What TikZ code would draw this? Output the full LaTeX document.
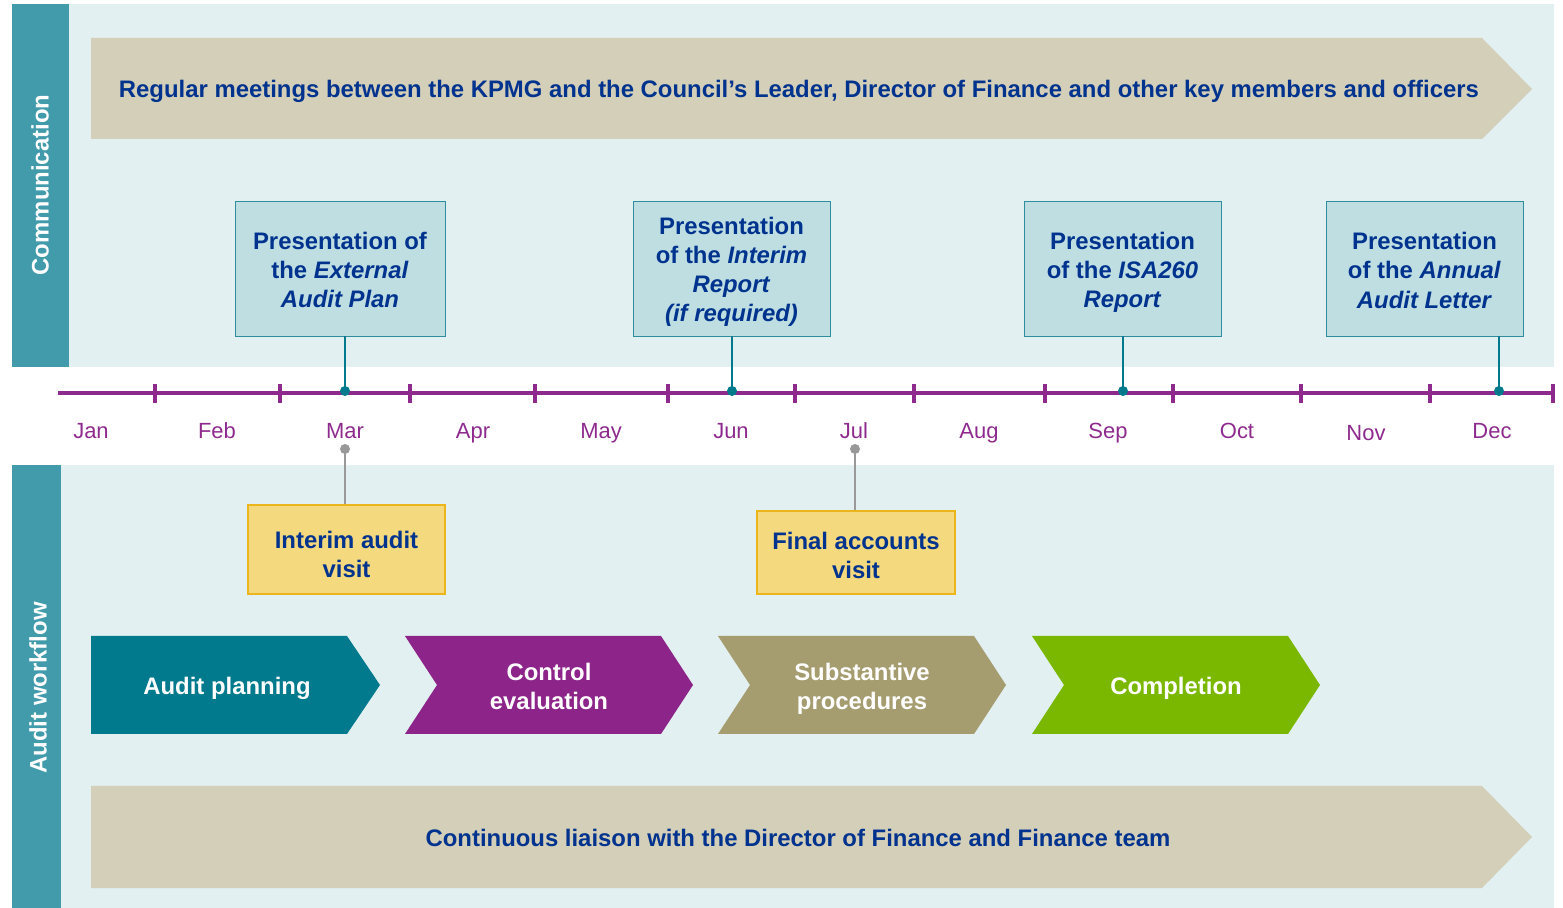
\documentclass[tikz,border=0pt]{standalone}
\usepackage{fontspec}
\setmainfont{Liberation Sans}
\definecolor{kblue}{HTML}{00338D}
\definecolor{panelbg}{HTML}{E2F0F1}
\definecolor{sidebar}{HTML}{419BAB}
\definecolor{banner}{HTML}{D4CFB8}
\definecolor{boxfill}{HTML}{BEDEE2}
\definecolor{boxline}{HTML}{2E8E9E}
\definecolor{tealdot}{HTML}{007A8C}
\definecolor{axiscol}{HTML}{8E2A8E}
\definecolor{yfill}{HTML}{F4D97E}
\definecolor{yline}{HTML}{EDB51C}
\definecolor{greyline}{HTML}{999999}
\definecolor{cplan}{HTML}{007A8C}
\definecolor{cctrl}{HTML}{8C2489}
\definecolor{csubst}{HTML}{A59D6F}
\definecolor{ccompl}{HTML}{7AB800}
% strut that pushes a box's text down
\newcommand{\padtop}[1]{\rule{0pt}{#1}}
\tikzset{
  bigtext/.style={font=\fontsize{13.6}{16.6}\selectfont\bfseries},
  presbox/.style={bigtext, draw=boxline, fill=boxfill, text=kblue, align=center,
    inner sep=0pt, minimum height=2.7cm},
  visitbox/.style={bigtext, draw=yline, fill=yfill, text=kblue, align=center,
    inner sep=0pt, thick},
  steptext/.style={bigtext, text=white, align=center},
  sidetext/.style={bigtext, text=white, rotate=90},
  month/.style={font=\fontsize{12.5}{15}\selectfont, text=axiscol,
    text height=9pt, text depth=2.5pt},
  axisline/.style={axiscol, line width=2pt},
  tealconn/.style={tealdot, line width=1.2pt},
  greyconn/.style={greyline, line width=1.2pt},
}
\begin{document}
\begin{tikzpicture}[x=0.02cm, y=-0.02cm]
  \useasboundingbox (0,0) rectangle (1563,908);

  % Panels
  \fill[panelbg] (12,4) rectangle (1554,367);
  \fill[panelbg] (12,465) rectangle (1554,908);
  \fill[sidebar] (12,4) rectangle (69,367);
  \fill[sidebar] (12,465) rectangle (61,908);
  \node[sidetext] (comm) at (40,185) {Communication};
  \node[sidetext] (flow) at (38,688) {Audit workflow};

  % Banners
  \fill[banner] (91,38) -- (1482,38) -- (1532,89) -- (1482,139) -- (91,139) -- cycle;
  \node[bigtext, text=kblue] (meet) at (799,91)
    {Regular meetings between the KPMG and the Council’s Leader, Director of Finance and other key members and officers};
  \fill[banner] (91,786) -- (1482,786) -- (1532,837) -- (1482,888) -- (91,888) -- cycle;
  \node[bigtext, text=kblue] (liaison) at (798,838)
    {Continuous liaison with the Director of Finance and Finance team};

  % Timeline
  \draw[axisline] (58,393) -- (1553,393);
  \foreach \x in {155,280,410,535,668,795,914,1045,1173,1301,1430,1553} {
    \draw[axisline] (\x,384) -- (\x,403);
  }
  \foreach \m/\x/\y in {Jan/91/433, Feb/217/433, Mar/345/433, Apr/473/433,
      May/601/433, Jun/731/433, Jul/854/433, Aug/979/433, Sep/1108/433,
      Oct/1237/433, Nov/1366/435, Dec/1492/433} {
    \node[month] (m-\m) at (\x,\y) {\m};
  }

  % Presentations
  \node[presbox, minimum width=4.2cm] (plan) at (340,268.5)
    {\padtop{11.5pt}Presentation of\\the \textit{External}\\\textit{Audit Plan}};
  \node[presbox, minimum width=3.94cm] (interim) at (731.5,268.5)
    {\padtop{13.5pt}Presentation\\of the \textit{Interim}\\\textit{Report}\\\textit{(if required)}};
  \node[presbox, minimum width=3.94cm] (isa) at (1122.5,268.5)
    {\padtop{14pt}Presentation\\of the \textit{ISA260}\\\textit{Report}};
  \node[presbox, minimum width=3.94cm] (letter) at (1424.5,268.5)
    {\padtop{12pt}Presentation\\of the \textit{Annual}\\\textit{Audit Letter}};

  \coordinate (d-mar) at (345,391);
  \coordinate (d-jun) at (732,391);
  \coordinate (d-sep) at (1123,391);
  \coordinate (d-dec) at (1499,391);
  \draw[tealconn] (d-mar |- plan.south) -- (d-mar);
  \draw[tealconn] (d-jun |- interim.south) -- (d-jun);
  \draw[tealconn] (d-sep |- isa.south) -- (d-sep);
  \draw[tealconn] (d-dec |- letter.south) -- (d-dec);
  \foreach \d in {d-mar,d-jun,d-sep,d-dec} {
    \fill[tealdot] (\d) circle (5);
  }

  % Visits
  \node[visitbox, minimum width=3.94cm, minimum height=1.78cm] (ivisit) at (346.5,549.5)
    {\padtop{15.6pt}Interim audit\\visit};
  \node[visitbox, minimum width=3.96cm, minimum height=1.66cm] (fvisit) at (856,552.5)
    {\padtop{13.5pt}Final accounts\\visit};
  \coordinate (g-mar) at (345,449);
  \coordinate (g-jul) at (855,449);
  \draw[greyconn] (g-mar) -- (g-mar |- ivisit.north);
  \draw[greyconn] (g-jul) -- (g-jul |- fvisit.north);
  \fill[greyline] (g-mar) circle (5);
  \fill[greyline] (g-jul) circle (5);

  % Workflow steps
  \fill[cplan] (91,636) -- (347,636) -- (380,685) -- (347,734) -- (91,734) -- cycle;
  \fill[cctrl] (405,636) -- (661,636) -- (693,685) -- (661,734) -- (405,734) -- (437,685) -- cycle;
  \fill[csubst] (718,636) -- (974,636) -- (1006,685) -- (974,734) -- (718,734) -- (750,685) -- cycle;
  \fill[ccompl] (1032,636) -- (1288,636) -- (1320,685) -- (1288,734) -- (1032,734) -- (1064,685) -- cycle;
  \node[steptext] (s-plan) at (227,688) {Audit planning};
  \node[steptext] (s-ctrl) at (549,686.5) {Control\\evaluation};
  \node[steptext] (s-subst) at (862,689) {Substantive\\procedures};
  \node[steptext] (s-compl) at (1176,688) {Completion};
\end{tikzpicture}
\end{document}
